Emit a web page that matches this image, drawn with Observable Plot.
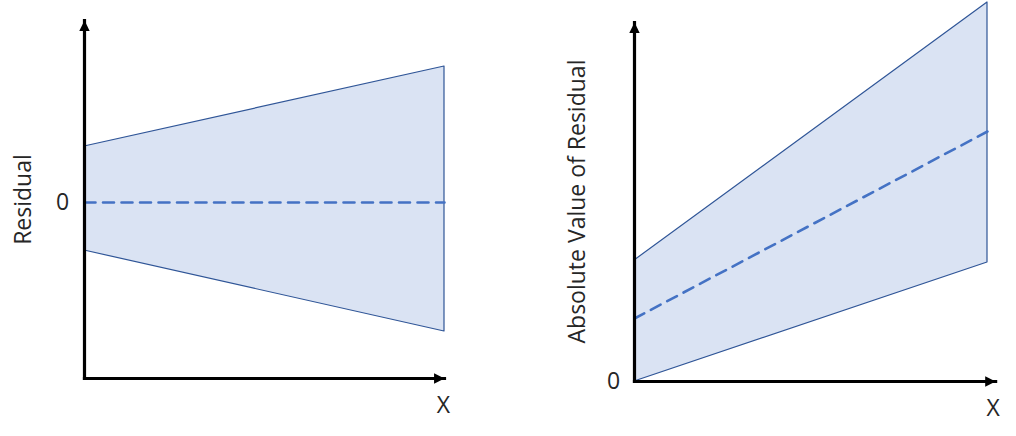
<!DOCTYPE html>
<html>
<head>
<meta charset="utf-8">
<script src="https://cdn.jsdelivr.net/npm/d3@7"></script>
<script src="https://cdn.jsdelivr.net/npm/@observablehq/plot@0.6"></script>
<style>
  html, body { margin: 0; padding: 0; background: #fff; }
  #wrap { position: relative; width: 1016px; height: 436px; overflow: hidden; }
  #wrap svg { position: absolute; top: 0; overflow: visible; }
</style>
</head>
<body>
<div id="wrap"></div>
<script>
// ---- Left panel: residual vs X (funnel) ----
const leftX = [0, 10];
const leftUpper = [5.6, 13.6];
const leftLower = [-4.8, -12.9];
const leftMid = [0, 0];
const leftAxisYRange = [-17.6, 18.2];
const leftAxisXRange = [0, 10];
const leftYLabel = "Residual";

// ---- Right panel: absolute residual vs X ----
const rightX = [0, 10];
const rightUpper = [12.1, 37.9];
const rightLower = [0, 11.9];
const rightMid = [6.3, 25.0];
const rightAxisYRange = [0, 35.9];
const rightAxisXRange = [0, 10.23];
const rightYLabel = "Absolute Value of Residual";

const xLabel = "X";
const zeroLabel = "0";

const FILL = "#dae3f3", EDGE = "#2f5597", MID = "#4472c4", INK = "#000", TXT = "#262626";
const FONT = "'Open Sans', 'Noto Sans', sans-serif";

// custom arrowhead symbols (tip at origin)
const arrowUp = { draw(ctx, size) { const s = Math.sqrt(size) * 1.4; ctx.moveTo(0, 0); ctx.lineTo(-s / 2, s); ctx.lineTo(s / 2, s); ctx.closePath(); } };
const arrowRight = { draw(ctx, size) { const s = Math.sqrt(size) * 1.4; ctx.moveTo(0, 0); ctx.lineTo(-s, -s / 2); ctx.lineTo(-s, s / 2); ctx.closePath(); } };

function panel({xs, upper, lower, mid, axY, axX, yLabel, xDomain, yDomain, margins, opts}) {
  const band = xs.map((x, i) => ({x, y1: lower[i], y2: upper[i], m: mid[i]}));
  const axes = [
    {x1: axX[0], y1: axY[0], x2: axX[0], y2: axY[1]},
    {x1: axX[0], y1: axY[0], x2: axX[1], y2: axY[0]}
  ];
  const yMid = (yDomain[0] + yDomain[1]) / 2 + opts.yOff;
  return Plot.plot({
    width: 508, height: 436,
    ...margins,
    x: {domain: xDomain, axis: null},
    y: {domain: yDomain, axis: null},
    style: {fontFamily: FONT, background: "transparent"},
    marks: [
      Plot.areaY(band, {x: "x", y1: "y1", y2: "y2", fill: FILL, stroke: EDGE, strokeWidth: 1.2}),
      Plot.line(band, {x: "x", y: "m", stroke: MID, strokeWidth: 2.6, strokeDasharray: "11,7.5"}),
      Plot.link(axes, {x1: "x1", y1: "y1", x2: "x2", y2: "y2", stroke: INK, strokeWidth: 3.2, strokeLinecap: "square"}),
      Plot.dot([{x: axX[0], y: axY[1]}], {x: "x", y: "y", symbol: arrowUp, r: 4.2, fill: INK, stroke: "none"}),
      Plot.dot([{x: axX[1], y: axY[0]}], {x: "x", y: "y", symbol: arrowRight, r: 4.2, fill: INK, stroke: "none"}),
      Plot.text([{t: zeroLabel, x: 0, y: 0}], {x: "x", y: "y", text: "t", dx: opts.zeroDx, fill: TXT, fontSize: 23, textAnchor: "middle"}),
      Plot.text([{t: yLabel, x: axX[0], y: yMid}], {x: "x", y: "y", text: "t", rotate: -90, dx: opts.labelDx, fill: TXT, fontSize: 23, letterSpacing: opts.spacing}),
      Plot.text([{t: xLabel, x: opts.xLabelX, y: axY[0]}], {x: "x", y: "y", text: "t", dy: opts.xLabelDy, fill: TXT, fontSize: 23})
    ]
  });
}

const left = panel({
  xs: leftX, upper: leftUpper, lower: leftLower, mid: leftMid,
  axY: leftAxisYRange, axX: leftAxisXRange, yLabel: leftYLabel,
  xDomain: [0, 10], yDomain: [-17.6, 18.2],
  margins: {marginLeft: 84, marginRight: 64, marginTop: 20, marginBottom: 58},
  opts: {zeroDx: -22, labelDx: -61, yOff: 0, xLabelDy: 27, xLabelX: 9.97, spacing: "0.2px"}
});
left.style.left = "0px";

const right = panel({
  xs: rightX, upper: rightUpper, lower: rightLower, mid: rightMid,
  axY: rightAxisYRange, axX: rightAxisXRange, yLabel: rightYLabel,
  xDomain: [0, 10], yDomain: [0, 37.9],
  margins: {marginLeft: 126, marginRight: 29, marginTop: 2, marginBottom: 55},
  opts: {zeroDx: -21, labelDx: -57, yOff: -0.95, xLabelDy: 27, xLabelX: 10.16, spacing: "1.3px"}
});
right.style.left = "508px";

document.getElementById("wrap").append(left, right);
</script>
</body>
</html>
